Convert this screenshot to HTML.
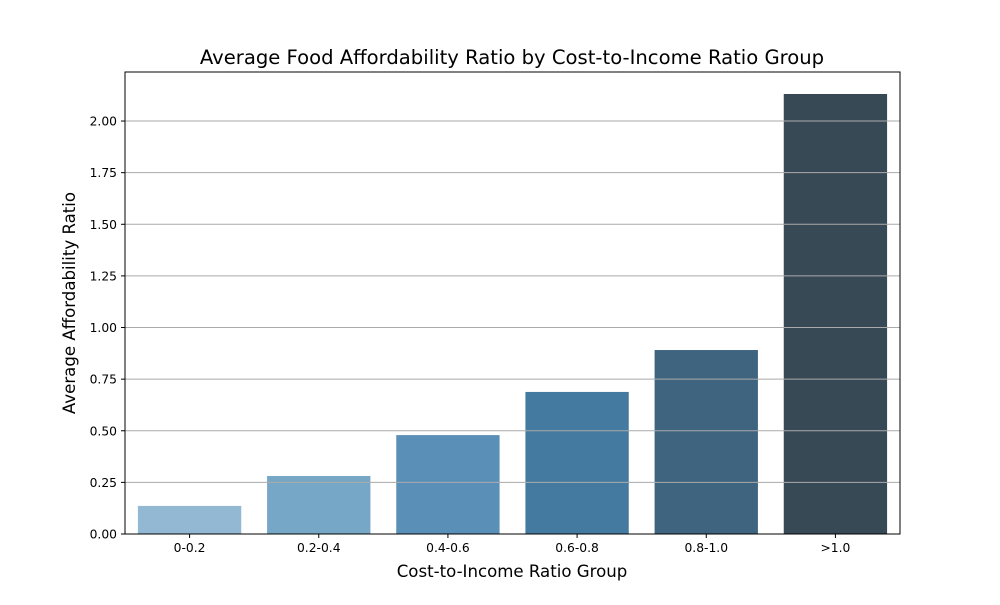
<!DOCTYPE html>
<html><head><meta charset="utf-8"><style>
body{margin:0;background:#fff;font-family:"Liberation Sans","DejaVu Sans",sans-serif}
</style></head><body>
<svg id="chart" width="1000" height="600" xmlns="http://www.w3.org/2000/svg" font-family="DejaVu Sans, Liberation Sans, sans-serif">
<rect width="1000" height="600" fill="#fff"/>
<text x="512" y="64" text-anchor="middle" font-size="19.6">Average Food Affordability Ratio by Cost-to-Income Ratio Group</text>
<g id="bars"></g><g id="grid"></g><g id="yticks"></g><g id="xticks"></g>
<rect x="125" y="72" width="775" height="462" fill="none" stroke="#000" stroke-width="1"/>
<text x="512" y="577" text-anchor="middle" font-size="16.6">Cost-to-Income Ratio Group</text>
<text transform="translate(75,303) rotate(-90)" text-anchor="middle" font-size="16.6">Average Affordability Ratio</text>
</svg>
<script>
const categories=["0-0.2","0.2-0.4","0.4-0.6","0.6-0.8","0.8-1.0",">1.0"];
const values=[0.136,0.281,0.479,0.688,0.891,2.131];
const yTicks=[0,0.25,0.5,0.75,1.0,1.25,1.5,1.75,2.0];
const colors=["#93b8d3","#77a7c6","#5a90b8","#447aa0","#3f6480","#384956"];
const L=125,R=900,T=72,B=534,yMax=2.2375;
const y=v=>B-(v/yMax)*(B-T);
const step=(R-L)/categories.length;
const x=i=>L+step*(i+0.5);
const NS="http://www.w3.org/2000/svg";
function mk(tag,attrs,parent){const e=document.createElementNS(NS,tag);for(const k in attrs)e.setAttribute(k,attrs[k]);document.getElementById(parent).appendChild(e);return e;}
values.forEach((v,i)=>{
 const r=mk("rect",{x:x(i)-step*0.4,y:y(v),width:step*0.8,height:B-y(v),fill:colors[i]},"bars");
 
 
 const t=mk("text",{x:x(i),y:B+18,"text-anchor":"middle","font-size":"12.3"},"xticks");
 t.textContent=categories[i];
 
 
 const tk=mk("line",{x1:x(i),x2:x(i),y1:B,y2:B+4,stroke:"#000"},"xticks");
 
 
});
yTicks.forEach(v=>{
 const g=mk("line",{x1:L,x2:R,y1:y(v),y2:y(v),stroke:"#aaaaaa","stroke-width":"1"},"grid");
 
 
 const tk=mk("line",{x1:L-4,x2:L,y1:y(v),y2:y(v),stroke:"#000"},"yticks");
 
 
 const t=mk("text",{x:L-8,y:y(v)+4.5,"text-anchor":"end","font-size":"12.3"},"yticks");
 t.textContent=v.toFixed(2);
 
 
});
</script>
</body></html>
